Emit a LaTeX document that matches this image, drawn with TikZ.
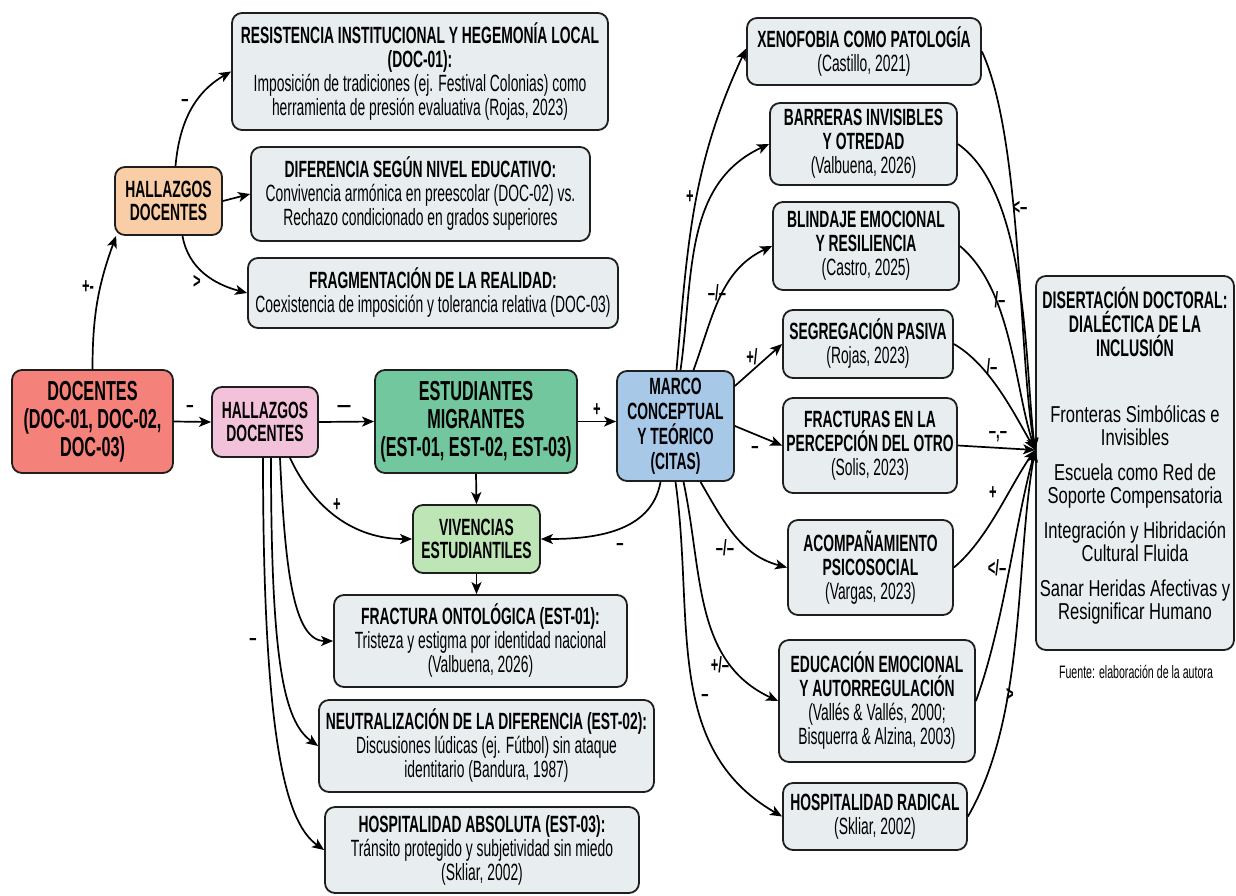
\documentclass[tikz,border=0pt]{standalone}
\usepackage{fontspec}
\setmainfont[FakeStretch=0.59]{Liberation Sans}
\newfontfamily\disfont[FakeStretch=0.72]{Liberation Sans}
\usetikzlibrary{arrows.meta}
\definecolor{bordercol}{HTML}{1E1E1E}
\definecolor{redfill}{HTML}{F4827A}
\definecolor{pinkfill}{HTML}{F2C2DA}
\definecolor{orangefill}{HTML}{F9CDA5}
\definecolor{greenfill}{HTML}{72C79E}
\definecolor{lgreenfill}{HTML}{BDE5B5}
\definecolor{bluefill}{HTML}{A8C8E8}
\definecolor{grayfill}{HTML}{E8EDEF}
\begin{document}
\begin{tikzpicture}[x=1pt,y=-1pt,
  box/.style={draw=bordercol, line width=1.8pt, rounded corners=10pt, align=center, inner sep=2pt},
  gbox/.style={box, fill=grayfill, font=\fontsize{23.5}{24}\selectfont},
  tbox/.style={box, font=\bfseries\fontsize{23.5}{23.5}\selectfont},
  bigbox/.style={box, font=\bfseries\fontsize{27.5}{28}\selectfont},
  sz/.style 2 args={minimum width=#1pt, minimum height=#2pt},
  arr/.style={-{Stealth[length=12pt,width=10pt,inset=3pt]}, line width=1.7pt, draw=black},
  lbl/.style={font=\bfseries\fontsize{22}{22}\selectfont, inner sep=0pt}]
\fill[white] (0,0) rectangle (1236,895);
\useasboundingbox (0,0) rectangle (1236,895);

% ---------- left part ----------
\node[bigbox, fill=redfill, sz={161}{103}] (docentes) at (92.5,421.5) {DOCENTES\\(DOC-01, DOC-02,\\DOC-03)};
\node[tbox, fill=orangefill, sz={107}{68}] (hdoc1) at (168.5,201) {HALLAZGOS\\DOCENTES};
\node[tbox, fill=pinkfill, sz={106}{70}] (hdoc2) at (265,422) {HALLAZGOS\\DOCENTES};

\node[gbox, sz={376}{117}] (resist) at (420,71.5) {\textbf{RESISTENCIA INSTITUCIONAL Y HEGEMONÍA LOCAL}\\\textbf{(DOC-01):}\\Imposición de tradiciones (ej. Festival Colonias) como\\herramienta de presión evaluativa (Rojas, 2023)};
\node[gbox, sz={339}{94}] (difer) at (420.5,194) {\textbf{DIFERENCIA SEGÚN NIVEL EDUCATIVO:}\\Convivencia armónica en preescolar (DOC-02) vs.\\Rechazo condicionado en grados superiores};
\node[gbox, sz={370}{70}] (fragm) at (433,293) {\textbf{FRAGMENTACIÓN DE LA REALIDAD:}\\Coexistencia de imposición y tolerancia relativa (DOC-03)};

% ---------- middle ----------
\node[bigbox, fill=greenfill, sz={202}{103}] (estud) at (476,421.5) {ESTUDIANTES\\MIGRANTES\\(EST-01, EST-02, EST-03)};
\node[tbox, fill=lgreenfill, sz={127}{68}] (viven) at (476.5,539) {VIVENCIAS\\ESTUDIANTILES};
\node[box, fill=bluefill, sz={117}{110}, font=\bfseries\fontsize{23.5}{25}\selectfont] (marco) at (675.5,426) {MARCO\\CONCEPTUAL\\Y TEÓRICO\\(CITAS)};

\node[gbox, sz={293}{92}] (fractura) at (480.5,641) {\textbf{FRACTURA ONTOLÓGICA (EST-01):}\\Tristeza y estigma por identidad nacional\\(Valbuena, 2026)};
\node[gbox, sz={335}{92}] (neutral) at (486.5,746) {\textbf{NEUTRALIZACIÓN DE LA DIFERENCIA (EST-02):}\\Discusiones lúdicas (ej. Fútbol) sin ataque\\identitario (Bandura, 1987)};
\node[gbox, sz={314}{86}] (hospabs) at (482,850) {\textbf{HOSPITALIDAD ABSOLUTA (EST-03):}\\Tránsito protegido y subjetividad sin miedo\\(Skliar, 2002)};

% ---------- right column ----------
\node[gbox, sz={234}{67}] (xeno) at (864,51.5) {\textbf{XENOFOBIA COMO PATOLOGÍA}\\(Castillo, 2021)};
\node[gbox, sz={187}{82}] (barr) at (863.5,144) {\textbf{BARRERAS INVISIBLES}\\\textbf{Y OTREDAD}\\(Valbuena, 2026)};
\node[gbox, sz={186}{88}] (blind) at (866,246) {\textbf{BLINDAJE EMOCIONAL}\\\textbf{Y RESILIENCIA}\\(Castro, 2025)};
\node[gbox, sz={170}{68}] (segreg) at (868,344) {\textbf{SEGREGACIÓN PASIVA}\\(Rojas, 2023)};
\node[gbox, sz={174}{95}] (fractu) at (870,445.5) {\textbf{FRACTURAS EN LA}\\\textbf{PERCEPCIÓN DEL OTRO}\\(Solis, 2023)};
\node[gbox, sz={165}{95}] (acomp) at (870.5,567.5) {\textbf{ACOMPAÑAMIENTO}\\\textbf{PSICOSOCIAL}\\(Vargas, 2023)};
\node[gbox, sz={196}{122}] (educ) at (877,701) {\textbf{EDUCACIÓN EMOCIONAL}\\\textbf{Y AUTORREGULACIÓN}\\(Vallés \& Vallés, 2000;\\Bisquerra \& Alzina, 2003)};
\node[gbox, sz={184}{67}] (hosprad) at (875,816.5) {\textbf{HOSPITALIDAD RADICAL}\\(Skliar, 2002)};

\node[box, fill=grayfill, sz={198}{374}] (dis) at (1135,463) {};
\node[align=center, inner sep=0pt, font=\bfseries\fontsize{24}{24}\selectfont] (distitle) at (1135,322) {DISERTACIÓN DOCTORAL:\\DIALÉCTICA DE LA\\INCLUSIÓN};
\node[align=center, inner sep=0pt, font=\disfont\fontsize{23}{23}\selectfont] (disitems) at (1135,515) {Fronteras Simbólicas e\\Invisibles\\[12pt]Escuela como Red de\\Soporte Compensatoria\\[12pt]Integración y Hibridación\\Cultural Fluida\\[12pt]Sanar Heridas Afectivas y\\Resignificar Humano};
\node[font=\fontsize{18}{18}\selectfont, inner sep=0pt] (fuente) at (1136,672) {Fuente: elaboración de la autora};
\coordinate (conv) at ([yshift=13pt]dis.west);

% ---------- connectors: left ----------
\draw[arr] (docentes.north) to[out=90,in=250] ([xshift=2pt]hdoc1.south west);
\draw[arr] ([xshift=7pt]hdoc1.north) to[out=85,in=210] (resist.west);
\draw[arr] (hdoc1.east) -- (difer.west);
\draw[arr] ([xshift=14pt]hdoc1.south) to[out=-80,in=165] (fragm.west);
\draw[arr] (docentes.east) -- (hdoc2.west);
\draw[arr] (hdoc2.east) -- (estud.west);
\draw[arr] (estud.east) -- (estud.east -| marco.west);
\draw[arr] (estud.south) -- (viven.north);
\draw[arr] (viven.south) -- (viven.south |- fractura.north);
\draw[arr] ([xshift=25pt]hdoc2.south) to[out=-65,in=180] (viven.west);
\draw[arr] ([xshift=-15pt]marco.south) to[out=-100,in=0] (viven.east);
\draw[arr] ([xshift=15pt]hdoc2.south) .. controls +(5,110) and +(-40,0) .. (fractura.west);
\draw[arr] ([xshift=6pt]hdoc2.south) .. controls +(0,200) and +(-35,-25) .. (neutral.west);
\draw[arr] ([xshift=-2pt]hdoc2.south) .. controls +(0,300) and +(-35,-25) .. (hospabs.west);

% ---------- connectors: marco to right column ----------
\draw[arr] ([xshift=1pt]marco.north) to[out=85,in=245] ([yshift=3pt]xeno.west);
\draw[arr] ([xshift=5pt]marco.north) to[out=82,in=205] (barr.west);
\draw[arr] ([xshift=18pt]marco.north) to[out=70,in=205] (blind.west);
\draw[arr] ([yshift=40pt]marco.east) -- (segreg.west);
\draw[arr] (marco.east) -- (fractu.west);
\draw[arr] ([xshift=25pt]marco.south) to[out=-60,in=165] (acomp.west);
\draw[arr] ([xshift=8pt]marco.south) to[out=-78,in=155] (educ.west);
\draw[arr] (marco.south) to[out=-82,in=150] (hosprad.west);

% ---------- connectors: right column to dissertation ----------
\draw[arr] (xeno.east) to[out=-65,in=100,looseness=0.6] (conv);
\draw[arr] (barr.east) to[out=-35,in=97,looseness=0.7] (conv);
\draw[arr] (blind.east) to[out=-40,in=108,looseness=0.8] (conv);
\draw[arr] (segreg.east) to[out=-30,in=120,looseness=0.8] (conv);
\draw[arr] (fractu.east) -- (conv);
\draw[arr] (acomp.east) to[out=40,in=235,looseness=0.8] (conv);
\draw[arr] (educ.east) to[out=70,in=255,looseness=0.8] (conv);
\draw[arr] (hosprad.east) to[out=60,in=260,looseness=0.8] (conv);

% ---------- labels ----------
\node[lbl] (l1) at (88,287) {+-};
\node[lbl] (l2) at (185,103) {–};
\node[lbl] (l3) at (197,282) {>};
\node[lbl] (l4) at (190,409) {–};
\node[lbl] (l5) at (344,409) {—};
\node[lbl] (l6) at (597,410) {+};
\node[lbl] (l7) at (337,505) {+};
\node[lbl] (l8) at (620,547) {–};
\node[lbl] (l9) at (253,642) {–};
\node[lbl] (l10) at (690,197) {+};
\node[lbl] (l11) at (717,293) {–/–};
\node[lbl] (l12) at (752,357) {+/};
\node[lbl] (l13) at (755,450) {–};
\node[lbl] (l14) at (725,548) {–/–};
\node[lbl] (l15) at (720,665) {+/–};
\node[lbl] (l16) at (705,698) {–};
\node[lbl] (l17) at (1020,208) {<–};
\node[lbl] (l18) at (1000,300) {/–};
\node[lbl] (l19) at (992,367) {/–};
\node[lbl] (l20) at (998,437) {–,–};
\node[lbl] (l21) at (993,493) {+};
\node[lbl] (l22) at (997,568) {</–};
\node[lbl] (l23) at (1010,695) {>};
\end{tikzpicture}
\end{document}
